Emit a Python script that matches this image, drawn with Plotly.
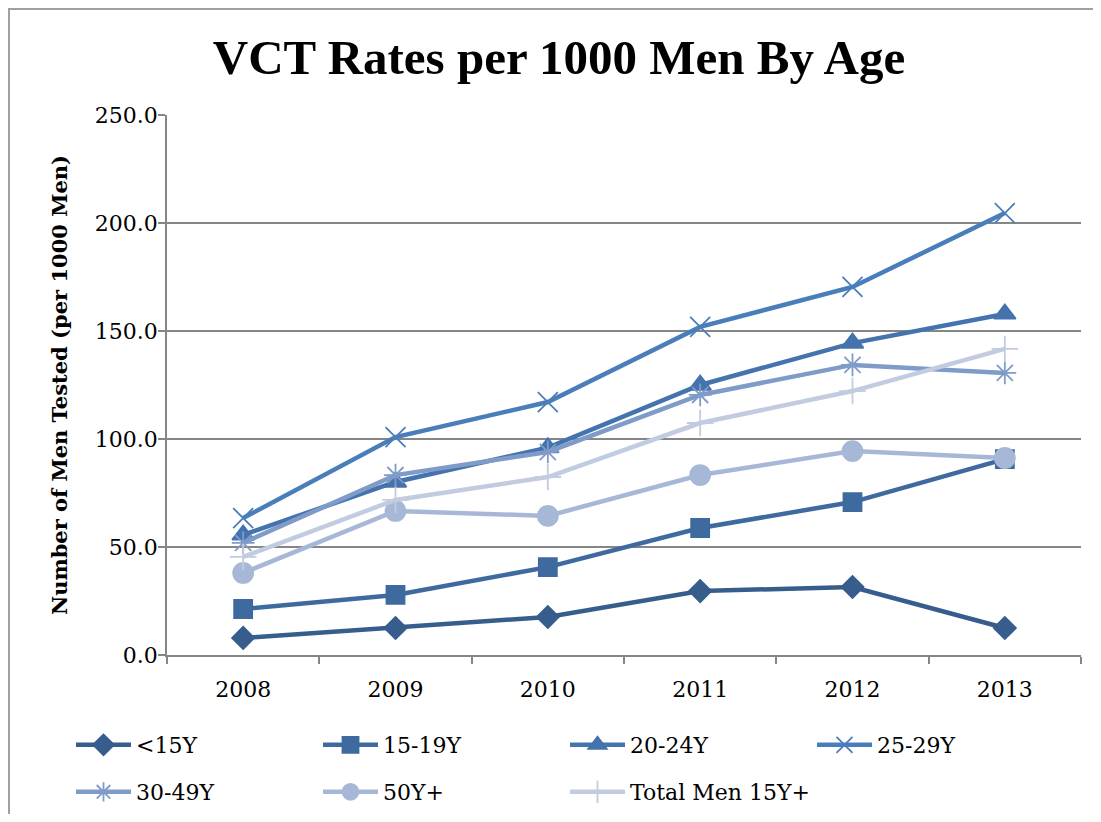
import plotly.graph_objects as go

years = ["2008", "2009", "2010", "2011", "2012", "2013"]
lt15 = [7.9, 12.5, 17.6, 29.6, 31.5, 12.5]
y15_19 = [21.3, 27.8, 40.7, 58.8, 70.8, 90.7]
y20_24 = [55.6, 80.1, 96.0, 125.0, 144.4, 157.9]
y25_29 = [63.4, 100.9, 117.1, 151.9, 170.4, 204.6]
y30_49 = [51.9, 83.3, 94.0, 120.4, 134.3, 130.6]
y50p = [38.0, 66.7, 64.4, 83.3, 94.4, 91.2]
total15p = [45.4, 71.8, 82.4, 107.4, 122.2, 141.7]

series = [
    ("<15Y", lt15, "#375D8D", "diamond", 17, "legend"),
    ("15-19Y", y15_19, "#3F6A9F", "square", 18, "legend"),
    ("20-24Y", y20_24, "#4473AE", "triangle-up", 19, "legend"),
    ("25-29Y", y25_29, "#4A7EBB", "x-thin-open", 20, "legend"),
    ("30-49Y", y30_49, "#7F9BC8", "asterisk-open", 19, "legend2"),
    ("50Y+", y50p, "#A7B8D7", "circle", 20, "legend2"),
    ("Total Men 15Y+", total15p, "#C2CCE1", "cross-thin-open", 19, "legend2"),
]

fig = go.Figure()
for name, vals, color, sym, size, lg in series:
    fig.add_trace(go.Scatter(
        x=years, y=vals, name=name, mode="lines+markers", legend=lg,
        line=dict(color=color, width=4.5),
        marker=dict(symbol=sym, size=size, color=color,
                    line=dict(color=color, width=1.8)),
    ))

# page body has an 8px margin; figure coordinates are screen - 8
W, H = 1085, 806
L, R, T, B = 159, 12, 107, 159
pw, ph = W - L - R, H - T - B
SERIF = "DejaVu Serif, Liberation Serif, serif"

legend_common = dict(orientation="h", x=(63 - L) / pw, xanchor="left",
                     yanchor="middle", entrywidth=177, itemwidth=55,
                     font=dict(size=22, family=SERIF, color="black"),
                     bgcolor="rgba(0,0,0,0)")

fig.update_layout(
    width=W, height=H,
    margin=dict(l=L, r=R, t=T, b=B, autoexpand=False),
    paper_bgcolor="white", plot_bgcolor="white",
    font=dict(family=SERIF, color="black"),
    title=dict(text="<b>VCT Rates per 1000 Men By Age</b>",
               x=551 / W, xanchor="center", y=1 - 49 / H, yanchor="middle",
               font=dict(size=49, family="Liberation Serif, serif")),
    xaxis=dict(type="category", showline=True, linecolor="#868686", linewidth=1.5,
               ticks="outside", tickson="boundaries", ticklen=7, tickcolor="#868686",
               tickwidth=1.5, showgrid=False, tickfont=dict(size=22),
               ticklabelstandoff=14, range=[-0.5, 5.5]),
    yaxis=dict(range=[0, 250], dtick=50, tickformat=".1f", showline=True,
               linecolor="#868686", linewidth=1.5, ticks="outside", ticklen=7,
               tickcolor="#868686", tickwidth=1.5, showgrid=True,
               gridcolor="#868686", gridwidth=1.5, tickfont=dict(size=22),
               zeroline=False, ticklabelstandoff=-4,
               title=dict(text="<b>Number of Men Tested (per 1000 Men)</b>",
                          font=dict(size=21), standoff=22)),
    legend=dict(y=(H - B - 737) / ph, **legend_common),
    legend2=dict(y=(H - B - 784) / ph, **legend_common),
    shapes=[dict(type="rect", xref="paper", yref="paper",
                 x0=-(L - 1) / pw, x1=1 + (R + 20) / pw,
                 y0=-(B + 20) / ph, y1=1 + (T - 1) / ph,
                 line=dict(color="#A0A0A0", width=2), fillcolor="rgba(0,0,0,0)",
                 layer="below")],
)

fig.write_html("out.html")
